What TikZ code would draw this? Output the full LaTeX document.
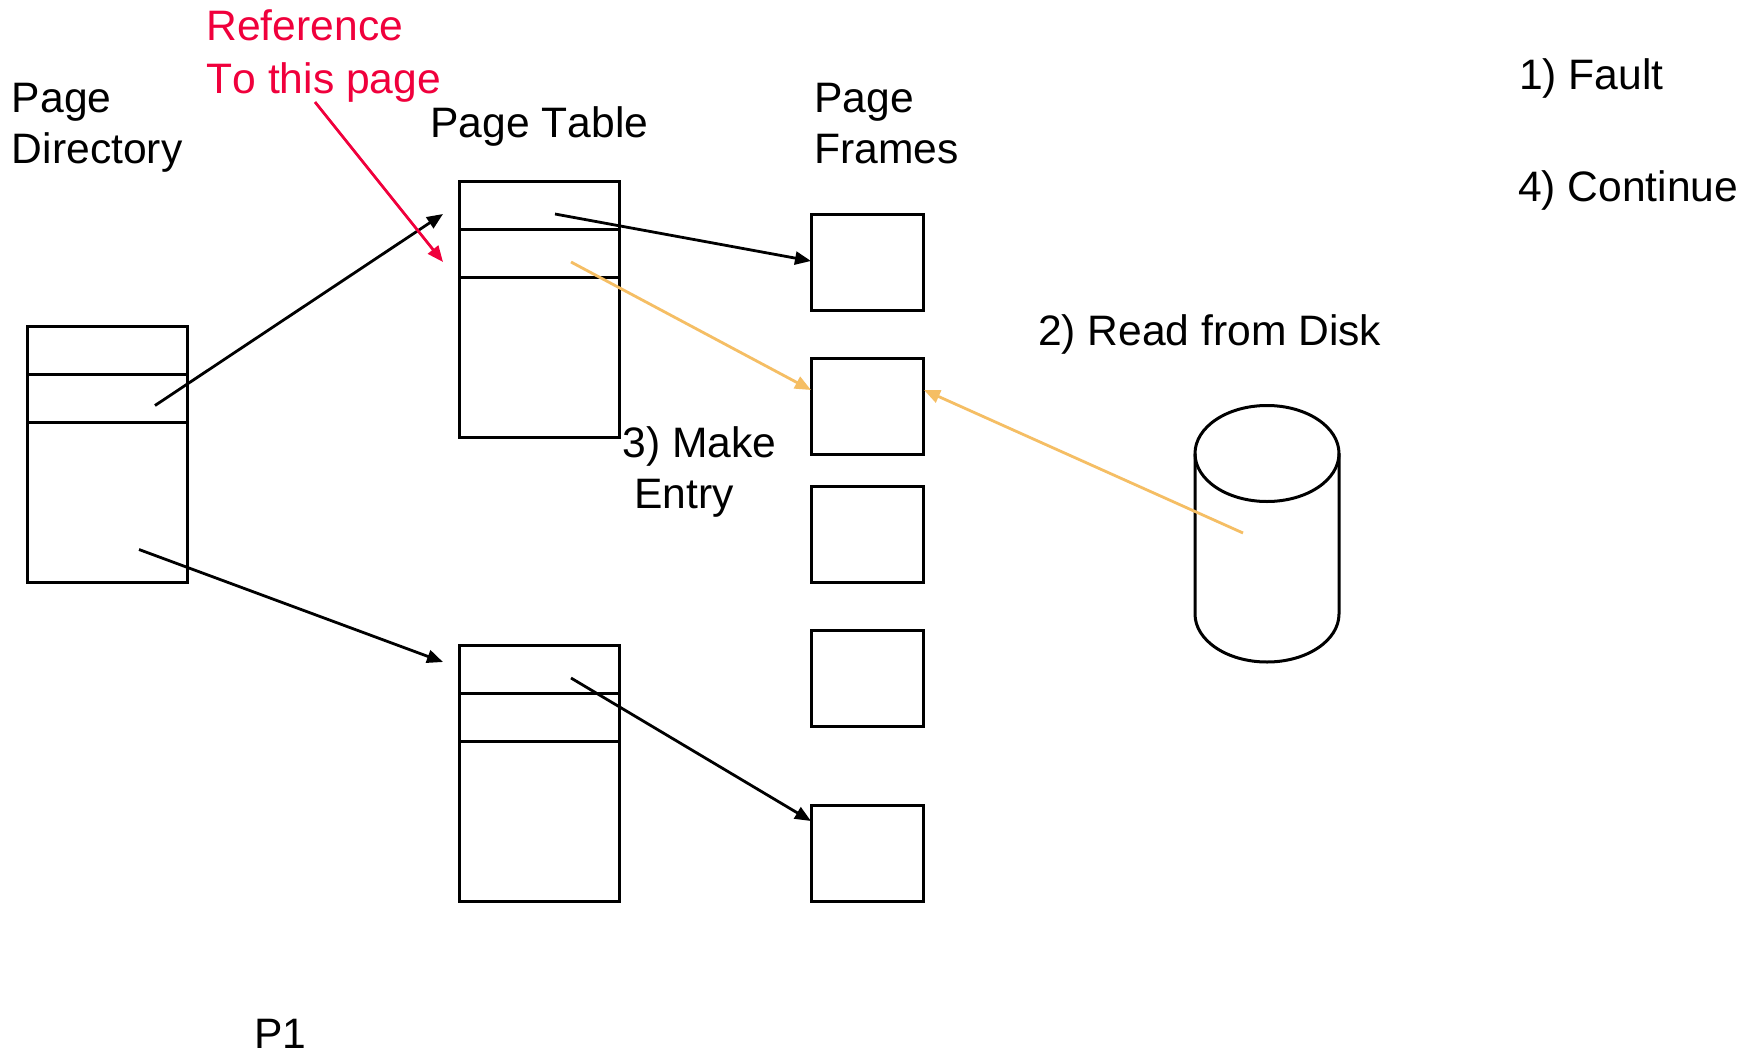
\documentclass[tikz,border=0pt]{standalone}
\usepackage{fontspec}
\setmainfont[Kerning=Off]{Liberation Sans}
\usetikzlibrary{arrows.meta}
\definecolor{refred}{RGB}{240,0,60}
\definecolor{amber}{RGB}{245,190,100}
\tikzset{
  box/.style={draw=black,line width=3pt,anchor=north west,inner sep=0pt,outer sep=0pt},
  tablebox/.style={box,minimum width=160pt,minimum height=256pt},
  framebox/.style={box,minimum width=112pt,minimum height=96pt},
  rowline/.style={draw=black,line width=3pt},
  label/.style={anchor=base west,inner sep=0pt,outer sep=0pt,font=\fontsize{42.6}{50}\selectfont},
  conn/.style={line width=2.8pt,-{Triangle[length=16pt,width=13pt]}},
  blackconn/.style={conn,draw=black},
  redconn/.style={conn,draw=refred},
  amberconn/.style={conn,draw=amber}
}
\begin{document}
\begin{tikzpicture}[x=1pt,y=-1pt]
\useasboundingbox (0,0) rectangle (1756,1052);
\fill[white] (0,0) rectangle (1756,1052);

% tables
\node[tablebox] (dir) at (27,326) {};
\node[tablebox] (ptone) at (459,181.5) {};
\node[tablebox] (pttwo) at (459,645.5) {};
\draw[rowline] ([yshift=-48pt]dir.north west) -- ([yshift=-48pt]dir.north east);
\draw[rowline] ([yshift=-96pt]dir.north west) -- ([yshift=-96pt]dir.north east);
\draw[rowline] ([yshift=-48pt]ptone.north west) -- ([yshift=-48pt]ptone.north east);
\draw[rowline] ([yshift=-96pt]ptone.north west) -- ([yshift=-96pt]ptone.north east);
\draw[rowline] ([yshift=-48pt]pttwo.north west) -- ([yshift=-48pt]pttwo.north east);
\draw[rowline] ([yshift=-96pt]pttwo.north west) -- ([yshift=-96pt]pttwo.north east);

% frames
\node[framebox] (fa) at (811,214) {};
\node[framebox] (fb) at (811,358) {};
\node[framebox] (fc) at (811,486) {};
\node[framebox] (fd) at (811,630) {};
\node[framebox] (fe) at (811,805.5) {};

% disk
\draw[line width=3pt] (1195,453.5) -- (1195,614) arc[start angle=180,end angle=0,x radius=72,y radius=48] -- (1339,453.5);
\draw[line width=3pt] (1267,453.5) ellipse[x radius=72,y radius=48];

% connector ends
\coordinate (dirsrca) at (155,405.5);
\coordinate (dirsrcb) at (139,549.5);
\coordinate (dirdsta) at (443,214);
\coordinate (dirdstb) at (443,662);
\coordinate (redsrc) at (315,102);
\coordinate (reddst) at (443,262);
\coordinate (ptsrca) at (555,214);
\coordinate (ptsrcb) at (571,262);
\coordinate (ptsrcc) at (571,678);
\coordinate (disksrc) at (1243,533);
\coordinate (fadst) at (811,261);
\coordinate (fbdstl) at (811,390);
\coordinate (fbdstr) at (924,390);
\coordinate (fedst) at (811,821);

% connectors
\draw[blackconn] (dirsrca) -- (dirdsta);
\draw[blackconn] (dirsrcb) -- (dirdstb);
\draw[redconn] (redsrc) -- (reddst);
\draw[blackconn] (ptsrca) -- (fadst);
\draw[amberconn] (ptsrcb) -- (fbdstl);
\draw[blackconn] (ptsrcc) -- (fedst);
\draw[amberconn] (disksrc) -- (fbdstr);

% labels
\node[label,text=refred] (tref) at (206.5,40) {Reference};
\node[label,text=refred] (tto) at (206.5,93) {To this page};
\node[label] (tpa) at (12,112) {Page};
\node[label] (tdir) at (12,163) {Directory};
\node[label] (tpt) at (430.5,137) {Page Table};
\node[label] (tpf) at (814.5,112) {Page};
\node[label] (tfr) at (814.5,163) {Frames};
\node[label] (tfault) at (1519,89) {1) Fault};
\node[label] (tcont) at (1518,201) {4) Continue};
\node[label] (tread) at (1038,345) {2) Read from Disk};
\node[label] (tmake) at (622.5,457) {3) Make};
\node[label] (tentry) at (634.5,508) {Entry};
\node[label] (tpone) at (254.5,1048) {P1};
\end{tikzpicture}
\end{document}
